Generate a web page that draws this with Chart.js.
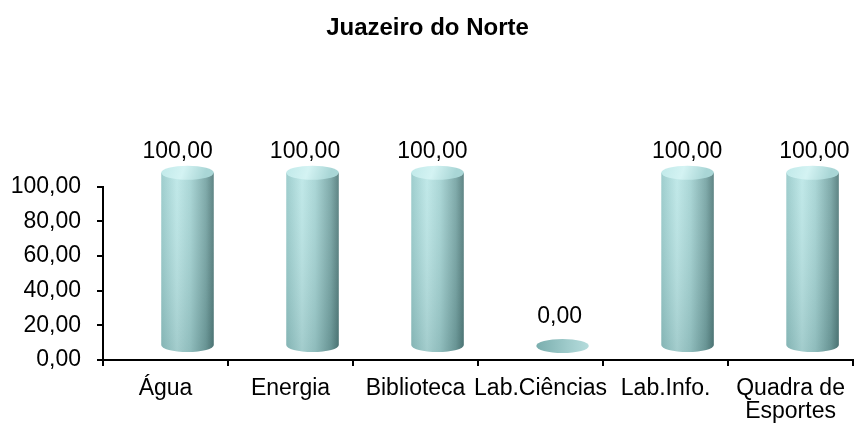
<!DOCTYPE html>
<html>
<head>
<meta charset="utf-8">
<script src="https://cdn.jsdelivr.net/npm/chart.js@4/dist/chart.umd.min.js"></script>
<style>
  body { margin: 0; background: #fff; }
  canvas { display: block; }
</style>
</head>
<body>
<canvas id="chart" width="856" height="425"></canvas>
<script>
// Chart data
const categories = ["Água", "Energia", "Biblioteca", "Lab.Ciências", "Lab.Info.", ["Quadra de", "Esportes"]];
const values = [100, 100, 100, 0, 100, 100];
const yTicks = [0, 20, 40, 60, 80, 100];

const FONT = "'Liberation Sans', Arial, sans-serif";

function fmt(v) {
  return v.toFixed(2).replace(".", ",");
}

// draws the 3D cylinders and the value labels on top of the (invisible) bars
const cylinders = {
  id: "cylinders",
  afterDatasetsDraw(chart) {
    const ctx = chart.ctx;
    const area = chart.chartArea;
    const meta = chart.getDatasetMeta(0);
    meta.data.forEach(function (bar, i) {
      const rx = bar.width / 2;
      const ry = 7;
      const cx = bar.x + 22;
      const ty = bar.y - 14;
      const by = bar.base - 14;
      ctx.save();
      if (values[i] > 0) {
        // body
        const g = ctx.createLinearGradient(cx - rx, 0, cx + rx, 0);
        g.addColorStop(0, "#98caca");
        g.addColorStop(0.3, "#bde7e7");
        g.addColorStop(0.55, "#a6d4d4");
        g.addColorStop(0.85, "#78a5a5");
        g.addColorStop(1, "#557d7d");
        ctx.fillStyle = g;
        ctx.beginPath();
        ctx.moveTo(cx - rx, ty);
        ctx.lineTo(cx - rx, by);
        ctx.ellipse(cx, by, rx, ry, 0, Math.PI, 0, true);
        ctx.lineTo(cx + rx, ty);
        ctx.closePath();
        ctx.fill();
        // slight darkening toward the bottom
        const v = ctx.createLinearGradient(0, ty, 0, by + ry);
        v.addColorStop(0, "rgba(255,255,255,0.06)");
        v.addColorStop(1, "rgba(0,40,40,0.14)");
        ctx.fillStyle = v;
        ctx.fill();
        // top cap
        const t = ctx.createLinearGradient(cx - rx, ty - ry, cx + rx * 0.6, ty + ry);
        t.addColorStop(0, "#c0e9e9");
        t.addColorStop(0.5, "#d4f3f3");
        t.addColorStop(1, "#a9d6d6");
        ctx.fillStyle = t;
        ctx.beginPath();
        ctx.ellipse(cx, ty, rx, ry, 0, 0, Math.PI * 2);
        ctx.fill();
      } else {
        const f = ctx.createLinearGradient(cx - rx, 0, cx + rx, 0);
        f.addColorStop(0, "#7aaeae");
        f.addColorStop(0.6, "#9fcbcb");
        f.addColorStop(1, "#b5dcdc");
        ctx.fillStyle = f;
        ctx.beginPath();
        ctx.ellipse(cx, by, rx, ry, 0, 0, Math.PI * 2);
        ctx.fill();
      }
      // value label
      const tPos = (bar.x - area.left) / area.width;
      const lx = cx - 11 + 14 * tPos;
      const ly = values[i] > 0 ? ty - ry - 14 : by - ry - 22;
      ctx.fillStyle = "#000";
      ctx.font = "23px " + FONT;
      ctx.textAlign = "center";
      ctx.textBaseline = "middle";
      ctx.fillText(fmt(values[i]), lx, ly);
      ctx.restore();
    });
  }
};

const ctx = document.getElementById("chart").getContext("2d");
const chart = new Chart(ctx, {
  type: "bar",
  data: {
    labels: categories,
    datasets: [
      {
        data: values,
        backgroundColor: "rgba(0,0,0,0)",
        categoryPercentage: 1,
        barPercentage: 0.42,
      },
    ],
  },
  options: {
    responsive: false,
    animation: false,
    devicePixelRatio: 1,
    layout: { padding: { left: 0, right: 1, top: 0, bottom: 0 } },
    plugins: {
      legend: { display: false },
      tooltip: { enabled: false },
      title: {
        display: true,
        text: "Juazeiro do Norte",
        color: "#000",
        font: { family: FONT, size: 24, weight: "bold" },
        padding: { top: 14, bottom: 144 },
      },
    },
    scales: {
      x: {
        afterFit: function (s) { s.height = 65; },
        grid: { drawOnChartArea: false, tickLength: 6, color: "#000", lineWidth: 2 },
        border: { color: "#000", width: 2 },
        ticks: {
          color: "#000",
          font: { family: FONT, size: 23, lineHeight: 1.0 },
          padding: 11,
          maxRotation: 0,
          autoSkip: false,
        },
      },
      y: {
        min: 0,
        max: 100,
        afterFit: function (s) { s.width = 103; },
        afterBuildTicks: function (s) {
          s.ticks = yTicks.map(function (v) { return { value: v }; });
        },
        grid: { drawOnChartArea: false, tickLength: 6, color: "#000", lineWidth: 2 },
        border: { color: "#000", width: 2 },
        ticks: {
          color: "#000",
          font: { family: FONT, size: 23 },
          padding: 16,
          callback: function (v) { return fmt(v); },
        },
      },
    },
  },
  plugins: [cylinders],
});
</script>
</body>
</html>
